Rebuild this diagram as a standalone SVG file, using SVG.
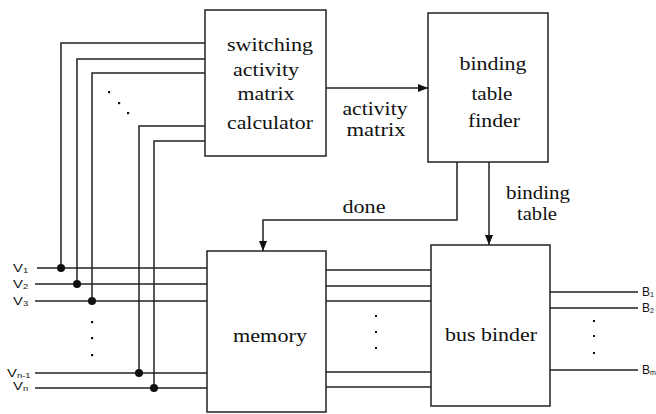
<svg xmlns="http://www.w3.org/2000/svg" width="656" height="414" viewBox="0 0 656 414">
<defs>
<style>
.box{fill:#fff;stroke:#222;stroke-width:1.5}
.ln{fill:none;stroke:#222;stroke-width:1.5}
.t{font-family:"Liberation Serif","Times New Roman",serif;font-size:19px;fill:#111;text-anchor:middle}
.s{font-family:"Liberation Sans",Arial,sans-serif;font-size:11px;fill:#111}
.b{font-family:"Liberation Sans",Arial,sans-serif;font-size:12px;fill:#111}
.sub{font-size:7px}
.dot{fill:#111}
</style>
<marker id="ah" viewBox="0 0 10 8" refX="10" refY="4" markerWidth="10" markerHeight="8" markerUnits="userSpaceOnUse" orient="auto">
<path d="M0,0 L10,4 L0,8 Z" fill="#111"/>
</marker>
</defs>
<g id="connectors">
<path class="ln" d="M205,43 H61 V268"/>
<path class="ln" d="M205,59 H77 V284"/>
<path class="ln" d="M205,73 H92 V301"/>
<path class="ln" d="M205,126 H139 V373"/>
<path class="ln" d="M205,141 H154 V388"/>
<rect class="dot" x="108" y="91" width="2.2" height="2.2"/>
<rect class="dot" x="118" y="102" width="2.2" height="2.2"/>
<rect class="dot" x="127" y="112" width="2.2" height="2.2"/>
<path class="ln" d="M37,268 H207"/>
<path class="ln" d="M35,284 H207"/>
<path class="ln" d="M35,301 H207"/>
<path class="ln" d="M35,373 H207"/>
<path class="ln" d="M35,388 H207"/>
<circle class="dot" cx="61" cy="268" r="4"/>
<circle class="dot" cx="77" cy="284" r="4"/>
<circle class="dot" cx="92" cy="301" r="4"/>
<circle class="dot" cx="139" cy="373" r="4"/>
<circle class="dot" cx="154" cy="388" r="4"/>
<rect class="dot" x="91" y="321" width="2.2" height="2.2"/>
<rect class="dot" x="91" y="337" width="2.2" height="2.2"/>
<rect class="dot" x="91" y="354" width="2.2" height="2.2"/>
<path class="ln" d="M326,88 H428" marker-end="url(#ah)"/>
<path class="ln" d="M457,162 V220 H263 V251" marker-end="url(#ah)"/>
<path class="ln" d="M489,162 V245" marker-end="url(#ah)"/>
<path class="ln" d="M326,270 H431"/>
<path class="ln" d="M326,286 H431"/>
<path class="ln" d="M326,301 H431"/>
<path class="ln" d="M326,372 H431"/>
<path class="ln" d="M326,387 H431"/>
<rect class="dot" x="375" y="315" width="2" height="2"/>
<rect class="dot" x="375" y="331" width="2" height="2"/>
<rect class="dot" x="375" y="347" width="2" height="2"/>
<path class="ln" d="M550,292 H638"/>
<path class="ln" d="M550,308 H638"/>
<path class="ln" d="M550,370 H638"/>
<rect class="dot" x="593" y="320" width="2" height="2"/>
<rect class="dot" x="593" y="335" width="2" height="2"/>
<rect class="dot" x="593" y="352" width="2" height="2"/>
</g>
<g id="switching">
<rect class="box" x="205" y="10" width="121" height="146"/>
<text class="t" x="270" y="51" textLength="86" lengthAdjust="spacingAndGlyphs">switching</text>
<text class="t" x="266" y="76" textLength="66" lengthAdjust="spacingAndGlyphs">activity</text>
<text class="t" x="266" y="100" textLength="57" lengthAdjust="spacingAndGlyphs">matrix</text>
<text class="t" x="270" y="129" textLength="86" lengthAdjust="spacingAndGlyphs">calculator</text>
</g>
<g id="binding">
<rect class="box" x="428" y="13" width="120" height="149"/>
<text class="t" x="493" y="70" textLength="67" lengthAdjust="spacingAndGlyphs">binding</text>
<text class="t" x="492" y="100" textLength="41" lengthAdjust="spacingAndGlyphs">table</text>
<text class="t" x="494" y="127" textLength="52" lengthAdjust="spacingAndGlyphs">finder</text>
</g>
<g id="memory">
<rect class="box" x="207" y="251" width="119" height="161"/>
<text class="t" x="270" y="342" textLength="74" lengthAdjust="spacingAndGlyphs">memory</text>
</g>
<g id="busbinder">
<rect class="box" x="431" y="245" width="119" height="161"/>
<text class="t" x="491" y="341" textLength="92" lengthAdjust="spacingAndGlyphs">bus binder</text>
</g>
<g id="labels">
<text class="t" x="375" y="115" textLength="65" lengthAdjust="spacingAndGlyphs">activity</text>
<text class="t" x="376" y="136" textLength="59" lengthAdjust="spacingAndGlyphs">matrix</text>
<text class="t" x="364" y="213" textLength="43" lengthAdjust="spacingAndGlyphs">done</text>
<text class="t" x="538" y="199" textLength="64" lengthAdjust="spacingAndGlyphs">binding</text>
<text class="t" x="537" y="220" textLength="40" lengthAdjust="spacingAndGlyphs">table</text>
<text class="s" transform="translate(13,272) scale(1.35,1)">V<tspan class="sub" dy="0.5">1</tspan></text>
<text class="s" transform="translate(13,288) scale(1.35,1)">V<tspan class="sub" dy="0.5">2</tspan></text>
<text class="s" transform="translate(13,305) scale(1.35,1)">V<tspan class="sub" dy="0.5">3</tspan></text>
<text class="s" transform="translate(7,377) scale(1.35,1)">V<tspan class="sub" dy="0.5">n-1</tspan></text>
<text class="s" transform="translate(13,390) scale(1.35,1)">V<tspan class="sub" dy="0.5">n</tspan></text>
<text class="b" x="642" y="296">B<tspan class="sub" dy="1">1</tspan></text>
<text class="b" x="642" y="312">B<tspan class="sub" dy="1">2</tspan></text>
<text class="b" x="642" y="374">B<tspan class="sub" dy="1">m</tspan></text>
</g>
</svg>
